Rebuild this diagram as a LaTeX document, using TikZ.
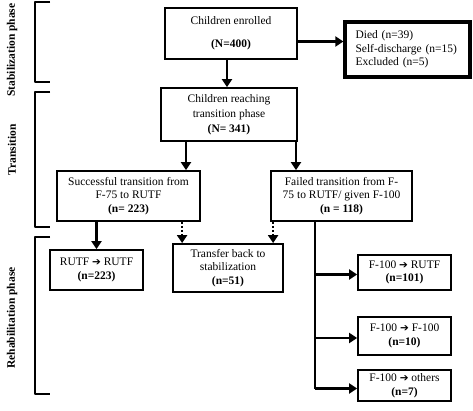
\documentclass[tikz,border=0pt]{standalone}
\usepackage{fontspec}
\setmainfont{Liberation Serif}
\newfontfamily\symfont{DejaVu Sans}
\usepackage{tikz}
\usetikzlibrary{calc,arrows.meta}
\tikzset{
  box/.style={draw=black, line width=1.8pt, align=center, inner sep=1pt, font=\fontsize{11.5}{13.6}\selectfont},
  heavy/.style={box, line width=3.2pt, align=left, text width=104pt, inner xsep=8pt},
  arr/.style={draw=black, line width=2.8pt, -{Triangle[length=8pt,width=10pt]}},
  darr/.style={arr, line width=2pt, dotted},
  trunk/.style={draw=black, line width=2.8pt},
  brk/.style={draw=black, line width=1.6pt, line join=round},
  phase/.style={rotate=90, font=\bfseries\fontsize{11.5}{13}\selectfont},
}
\newcommand{\ra}{{\symfont\bfseries\fontsize{10.5}{10}\selectfont ➔}}

\begin{document}
\begin{tikzpicture}[x=1pt,y=-1pt]
  \useasboundingbox (0,0) rectangle (473,411);
  % boxes
  \node[box, minimum width=132pt, minimum height=51pt] (enroll) at (231,33.5)
    {Children enrolled\\[9pt]\textbf{(N=400)}};
  \node[heavy, minimum width=125pt, minimum height=55pt] (died) at (407.5,49.5)
    {Died (n=39)\\Self-discharge (n=15)\\Excluded (n=5)};
  \node[box, minimum width=136pt, minimum height=53pt,
    font=\fontsize{11.5}{15}\selectfont] (reach) at (229,114.5)
    {Children reaching\\transition phase\\\textbf{(N= 341)}};
  \node[box, minimum width=143pt, minimum height=50pt] (succ) at (128.5,196)
    {Successful transition from\\F-75 to RUTF\\\textbf{(n= 223)}};
  \node[box, minimum width=141pt, minimum height=50pt] (fail) at (341.5,196)
    {Failed transition from F-\\75 to RUTF/ given F-100\\\textbf{(n = 118)}};
  \node[box, minimum width=93pt, minimum height=40pt] (rutf) at (96.5,270)
    {RUTF \ra{} RUTF\\\textbf{(n=223)}};
  \node[box, minimum width=110pt, minimum height=48pt] (back) at (228,268)
    {Transfer back to\\stabilization\\\textbf{(n=51)}};
  \node[box, minimum width=93pt, minimum height=35pt] (fA) at (404.5,272.5)
    {F-100 \ra{} RUTF\\\textbf{(n=101)}};
  \node[box, minimum width=93pt, minimum height=38pt] (fB) at (404.5,336)
    {F-100 \ra{} F-100\\\textbf{(n=10)}};
  \node[box, minimum width=93pt, minimum height=31pt] (fC) at (404.5,385.5)
    {F-100 \ra{} others\\\textbf{(n=7)}};
  % connectors
  \draw[arr] ([xshift=-4pt]enroll.south) -- ([xshift=-4pt]enroll.south |- reach.north);
  \draw[arr] ([yshift=-8pt]enroll.east) -- ([yshift=-8pt]enroll.east -| died.west);
  \draw[arr] ([xshift=-43pt]reach.south) -- ([xshift=-43pt]reach.south |- succ.north);
  \draw[arr] ([xshift=67pt]reach.south) -- ([xshift=67pt]reach.south |- fail.north);
  \draw[arr] (rutf.north |- succ.south) -- (rutf.north);
  \draw[darr] ([xshift=10pt]back.north west |- succ.south) -- ([xshift=10pt]back.north west);
  \draw[darr] ([xshift=3pt]fail.south west) -- ([xshift=3pt]fail.south west |- back.north);
  \coordinate (tr) at ([xshift=-26.5pt]fail.south);
  \draw[trunk] (tr) -- ([yshift=-3pt]tr |- fC.west);
  \draw[arr] ([yshift=-2pt]tr |- fA.west) -- ([yshift=-2pt]fA.west);
  \draw[arr] ([yshift=-2pt]tr |- fB.west) -- ([yshift=-2pt]fB.west);
  \draw[arr] ([yshift=-3pt]tr |- fC.west) -- ([yshift=-3pt]fC.west);
  % phase brackets
  \draw[brk] (50,2) -- (35,2) -- (35,82) -- (50,82);
  \draw[brk] (50,92) -- (35,92) -- (35,227) -- (50,227);
  \draw[brk] (50,237) -- (35,237) -- (35,394) -- (50,394);
  \node[phase] (lstab) at (12,50) {Stabilization phase};
  \node[phase] (ltrans) at (12,150) {Transition};
  \node[phase] (lrehab) at (12,318) {Rehabilitation phase};
\end{tikzpicture}
\end{document}
